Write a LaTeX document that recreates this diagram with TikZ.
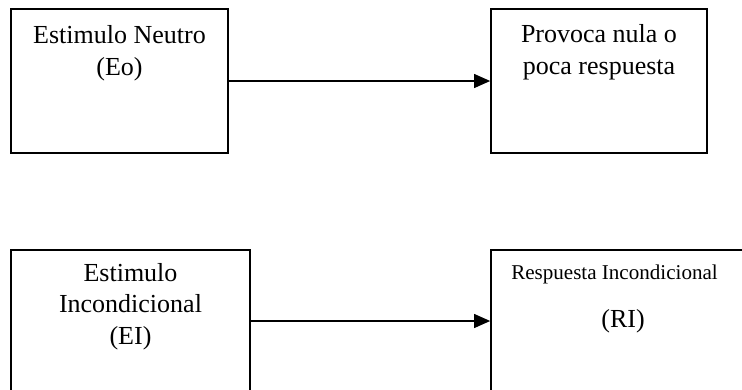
\documentclass[tikz,border=0pt]{standalone}
\usepackage{fontspec}
\setmainfont{Liberation Serif}
\usetikzlibrary{arrows.meta, positioning}

\begin{document}
\begin{tikzpicture}[
  x=0.75pt, y=-0.75pt,
  box/.style    ={rectangle, draw, line width=1.3pt, inner sep=0pt},
  caption/.style={align=center, font=\fontsize{19.5}{23.3}\selectfont, inner sep=0pt, anchor=base},
  smalltxt/.style={font=\fontsize{15.8}{19}\selectfont, inner sep=0pt, anchor=base},
  arrow/.style  ={-{Triangle[length=12pt, width=10.5pt]}, line width=0.8pt},
]
  \useasboundingbox (0,0) rectangle (742,389);
  \clip (0,0) rectangle (742,389);
  % boxes (bottom row runs past the lower edge)
  \node[box, minimum width=162.75pt, minimum height=108pt]  (eo) at (119.5,81)  {};
  \node[box, minimum width=162pt,    minimum height=108pt]  (nr) at (599,81)    {};
  \node[box, minimum width=179.25pt, minimum height=106.5pt](ei) at (130.5,321) {};
  \node[box, minimum width=198pt,    minimum height=106.5pt](ri) at (623,321)   {};
  % texts (base = last line)
  \node[caption] (eo-t) at (119.5,75) {Estimulo Neutro\\(Eo)};
  \node[caption] (nr-t) at (599,74)   {Provoca nula o\\poca respuesta};
  \node[caption] (ei-t) at (130.5,344){Estimulo\\Incondicional\\(EI)};
  \node[smalltxt](ri-t) at (614.5,279){Respuesta Incondicional};
  \node[caption] (ri-l) at (623,327)  {(RI)};
  % connectors
  \draw[arrow] (eo) -- (nr);
  \draw[arrow] (ei) -- (ri);
\end{tikzpicture}
\end{document}
